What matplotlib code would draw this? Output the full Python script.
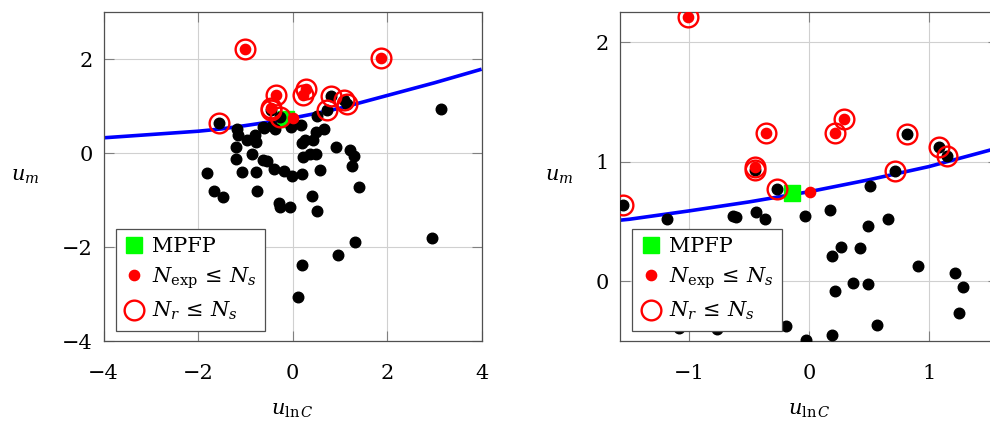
import matplotlib
matplotlib.use('Agg')
import matplotlib.pyplot as plt

# all samples (black dots)
u_lnC = [-1.55, -1.18, -1.15, -0.97, -0.80, -0.78, -1.20, -1.19, -0.87, -0.63,
         -0.61, -0.44, -0.37, -0.62, -0.55, -0.39, -0.19, -0.02, 0.19, -1.08,
         -0.77, -1.82, -1.67, -1.48, -0.76, -0.29, -0.27, -0.06, 0.40, 0.51,
         0.57, 0.22, 0.37, 0.49, 0.19, 0.27, 0.43, 0.91, 1.22, 1.29,
         1.25, 1.40, 1.32, 0.97, 0.20, 0.11, 2.95, 3.13, -0.03, 0.175,
         0.51, 0.49, 0.66, 0.72, 0.82, 1.085, 1.155, -0.27, -0.45]
u_m = [0.64, 0.52, 0.39, 0.28, 0.39, 0.25, 0.14, -0.12, -0.02, 0.55,
       0.54, 0.58, 0.52, -0.14, -0.16, -0.33, -0.37, -0.49, -0.45, -0.39,
       -0.40, -0.41, -0.80, -0.94, -0.80, -1.06, -1.15, -1.14, -0.91, -1.22,
       -0.36, -0.08, -0.01, -0.02, 0.215, 0.29, 0.28, 0.13, 0.07, -0.05,
       -0.26, -0.71, -1.89, -2.16, -2.37, -3.05, -1.81, 0.95, 0.55, 0.60,
       0.80, 0.46, 0.52, 0.92, 1.23, 1.125, 1.045, 0.77, 0.93]

# N_exp <= N_s
exp_lnC = [-1.01, 1.86, -0.36, 0.217, 0.29, -0.45, 0.006]
exp_m = [2.21, 2.03, 1.245, 1.245, 1.36, 0.96, 0.75]

# N_r <= N_s
r_lnC = [-1.55, 0.72, 0.82, 1.085, 1.155, -0.27, -0.45, -0.45, -1.01, 1.86,
         -0.36, 0.217, 0.29]
r_m = [0.64, 0.92, 1.23, 1.125, 1.045, 0.77, 0.93, 0.96, 2.21, 2.03,
       1.245, 1.245, 1.36]

mpfp_lnC = [-0.14]
mpfp_m = [0.74]

# limit state curve
curve_lnC = [-4, -3, -2, -1.5, -1, -0.5, 0, 0.5, 1, 2, 3, 4]
curve_m = [0.33, 0.40, 0.47, 0.52, 0.59, 0.665, 0.75, 0.85, 0.96, 1.23, 1.50, 1.79]

plt.rcParams['font.family'] = ['DejaVu Serif']
plt.rcParams['mathtext.fontset'] = 'dejavuserif'
plt.rcParams['font.size'] = 15


def panel(ax, xlim, ylim, xticks, yticks):
    ax.plot(curve_lnC, curve_m, color='#0000ff', lw=2.6, zorder=2, solid_capstyle='butt')
    sq, = ax.plot(mpfp_lnC, mpfp_m, ls='none', marker='s', ms=11.5, color='#00ff00',
                  mec='#00ff00', zorder=3)
    ax.plot(u_lnC, u_m, ls='none', marker='o', ms=7.6, color='black', zorder=4)
    rd, = ax.plot(exp_lnC, exp_m, ls='none', marker='o', ms=7.4, color='#ff0000', zorder=5)
    rc, = ax.plot(r_lnC, r_m, ls='none', marker='o', ms=14.2, mfc='none', mec='#ff0000',
                  mew=1.7, zorder=6)
    ax.set_xlim(xlim)
    ax.set_ylim(ylim)
    ax.set_xticks(xticks)
    ax.set_yticks(yticks)
    ax.grid(True, color='#d0d0d0', lw=0.8)
    ax.set_axisbelow(True)
    for s in ax.spines.values():
        s.set_color('#505050')
        s.set_linewidth(0.9)
    ax.tick_params(direction='in', length=7, width=0.8, color='#808080',
                   top=True, right=True, labelsize=15)
    ax.tick_params(axis='x', pad=16)
    ax.tick_params(axis='y', pad=8)
    ax.set_xlabel(r'$u_{\ln C}$', labelpad=13)
    ax.set_ylabel(r'$u_m$', rotation=0, ha='right', va='center', labelpad=16)
    leg = ax.legend([sq, rd, rc],
                    ['MPFP', r'$N_{\mathrm{exp}}\,\leq\,N_s$', r'$N_r\,\leq\,N_s$'],
                    loc='lower left', bbox_to_anchor=(0.032, 0.032), borderaxespad=0,
                    fancybox=False, framealpha=1, edgecolor='#505050',
                    handlelength=1.0, handletextpad=0.35, borderpad=0.4,
                    labelspacing=0.45, fontsize=15)
    leg.get_frame().set_linewidth(0.9)
    leg.set_zorder(10)


fig = plt.figure(figsize=(9.9, 4.26), dpi=100)
ax1 = fig.add_axes([0.1047, 0.1988, 0.3818, 0.7723])
ax2 = fig.add_axes([0.6263, 0.1988, 0.3818, 0.7723])

panel(ax1, (-4, 4), (-4, 3), [-4, -2, 0, 2, 4], [-4, -2, 0, 2])
panel(ax2, (-1.576, 1.579), (-0.5, 2.25), [-1, 0, 1], [0, 1, 2])

fig.savefig('out.png', dpi=100)
